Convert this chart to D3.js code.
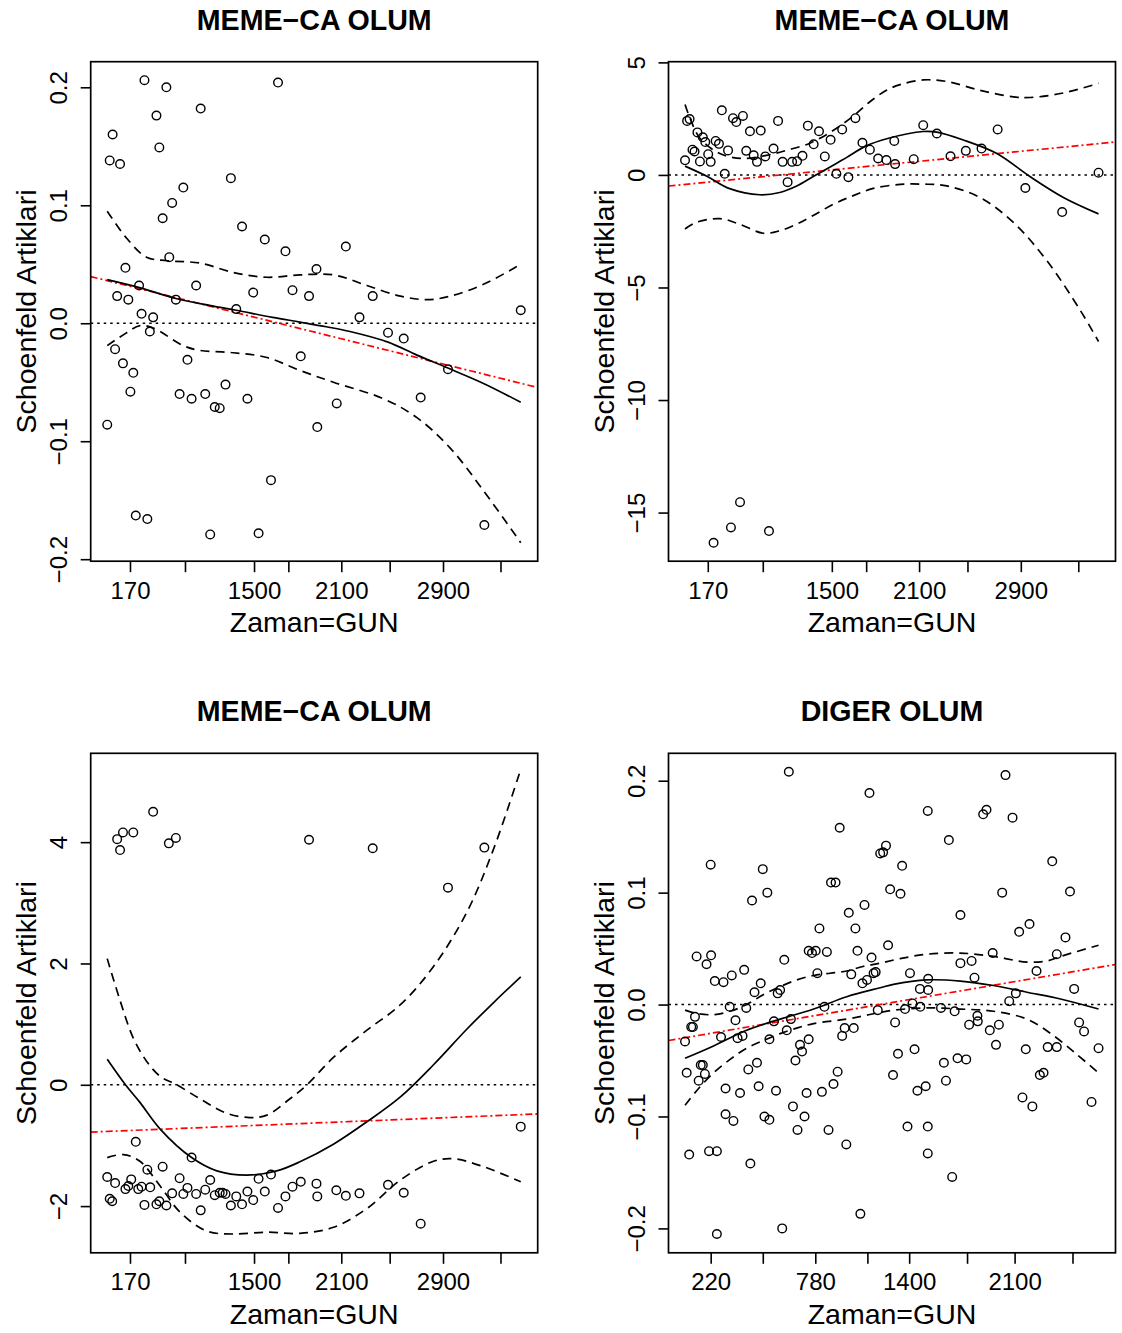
<!DOCTYPE html>
<html>
<head>
<meta charset="utf-8">
<script src="https://cdn.jsdelivr.net/npm/d3@7"></script>
<style>
  html, body { margin: 0; padding: 0; background: #fff; }
  text { font-family: "Liberation Sans", Arial, Helvetica, sans-serif; fill: #000; }
</style>
</head>
<body>
<svg id="chart" width="1122" height="1333"></svg>
<script>
// ---------- DATA (x = KM-transformed time, 0..1000) ----------
const titles = ["MEME\u2212CA OLUM", "MEME\u2212CA OLUM", "MEME\u2212CA OLUM", "DIGER OLUM"];
const yLabel = "Schoenfeld Artiklari";
const xLabel = "Zaman=GUN";

const xTicksA = [55, 188, 355, 438, 566, 683, 812, 951];
const xTickLabelsA = ["170", "", "1500", "", "2100", "", "2900", ""];
const xTicksB = [62, 188, 315, 441, 542, 682, 797, 937];
const xTickLabelsB = ["220", "", "780", "", "1400", "", "2100", ""];

const yTicks1 = [-0.2, -0.1, 0, 0.1, 0.2];
const yTickLabels1 = ["\u22120.2", "\u22120.1", "0.0", "0.1", "0.2"];
const yTicks2 = [-15, -10, -5, 0, 5];
const yTickLabels2 = ["\u221215", "\u221210", "\u22125", "0", "5"];
const yTicks3 = [-2, 0, 2, 4];
const yTickLabels3 = ["\u22122", "0", "2", "4"];
const yTicks4 = [-0.2, -0.1, 0, 0.1, 0.2];
const yTickLabels4 = ["\u22120.2", "\u22120.1", "0.0", "0.1", "0.2"];

const yRange1 = [-0.2017, 0.2217];
const yRange2 = [-17.16, 5.03];
const yRange3 = [-2.77, 5.465];
const yRange4 = [-0.2218, 0.2245];

// residual points [x, residual]
const points1 = [[0,-0.086],[6,0.138],[13,0.160],[19,-0.022],[24,0.023],[31,0.135],[38,-0.034],[44,0.047],[51,0.020],[56,-0.058],[63,-0.042],[69,-0.163],[77,0.032],[83,0.008],[90,0.206],[97,-0.166],[103,-0.007],[111,0.005],[119,0.176],[126,0.149],[134,0.089],[143,0.200],[150,0.056],[157,0.102],[166,0.020],[175,-0.060],[184,0.115],[194,-0.031],[204,-0.064],[215,0.032],[226,0.182],[237,-0.060],[249,-0.179],[260,-0.071],[272,-0.072],[286,-0.052],[299,0.123],[312,0.012],[326,0.082],[339,-0.064],[353,0.026],[366,-0.178],[381,0.071],[396,-0.133],[413,0.204],[431,0.061],[448,0.028],[468,-0.028],[488,0.023],[506,0.046],[508,-0.088],[555,-0.068],[577,0.065],[610,0.005],[642,0.023],[679,-0.008],[717,-0.013],[758,-0.063],[824,-0.039],[912,-0.171],[1000,0.011]];
const points2 = [[0,0.65],[5,2.40],[11,2.48],[18,1.12],[23,1.04],[30,1.89],[36,0.60],[43,1.67],[49,1.46],[56,0.92],[62,0.58],[69,-16.34],[74,1.51],[82,1.38],[89,2.87],[96,0.05],[104,1.09],[111,-15.66],[116,2.52],[124,2.35],[133,-14.54],[140,2.62],[148,1.07],[157,1.94],[166,0.87],[174,0.58],[183,1.97],[194,0.82],[203,-15.82],[214,1.17],[225,2.40],[236,0.58],[248,-0.32],[259,0.58],[271,0.61],[284,0.85],[297,2.19],[311,1.36],[324,1.94],[338,0.82],[352,1.56],[366,0.05],[380,2.02],[395,-0.10],[412,2.52],[429,1.43],[447,1.12],[467,0.73],[487,0.66],[506,1.51],[508,0.48],[553,0.70],[576,2.21],[609,1.84],[642,0.83],[679,1.07],[717,1.17],[756,2.02],[823,-0.58],[912,-1.65],[1000,0.10]];
const points3 = [[0,-1.52],[6,-1.88],[12,-1.92],[19,-1.62],[24,4.05],[31,3.87],[38,4.16],[44,-1.72],[51,-1.67],[58,-1.56],[63,4.16],[69,-0.94],[75,-1.72],[83,-1.68],[90,-1.98],[97,-1.40],[104,-1.69],[111,4.50],[119,-1.97],[126,-1.92],[134,-1.35],[143,-1.99],[149,3.98],[157,-1.79],[166,4.07],[175,-1.54],[184,-1.80],[194,-1.70],[204,-1.20],[215,-1.80],[226,-2.07],[237,-1.73],[249,-1.57],[260,-1.82],[272,-1.78],[279,-1.78],[286,-1.80],[299,-1.99],[312,-1.84],[326,-1.97],[339,-1.76],[353,-1.90],[366,-1.55],[381,-1.76],[396,-1.48],[413,-2.03],[431,-1.84],[448,-1.68],[468,-1.60],[488,4.04],[506,-1.63],[508,-1.84],[554,-1.74],[577,-1.83],[610,-1.79],[642,3.90],[679,-1.65],[717,-1.78],[758,-2.29],[824,3.25],[912,3.91],[1000,-0.69]];
const points4 = [[0,-0.033],[4,-0.061],[10,-0.134],[15,-0.020],[19,-0.020],[24,-0.011],[28,0.043],[33,-0.068],[38,-0.054],[43,-0.054],[48,-0.062],[52,0.036],[58,-0.131],[62,0.125],[63,0.044],[72,0.021],[77,-0.205],[77,-0.131],[87,-0.029],[93,0.020],[98,-0.075],[98,-0.098],[108,-0.002],[113,0.026],[117,-0.104],[122,-0.014],[127,-0.030],[133,-0.079],[139,-0.028],[143,0.031],[148,-0.003],[153,-0.058],[158,-0.142],[162,0.093],[168,0.011],[174,-0.052],[178,-0.073],[183,0.019],[188,0.121],[192,-0.100],[199,0.100],[204,-0.103],[204,-0.031],[215,-0.015],[220,-0.077],[224,0.010],[230,0.013],[235,-0.200],[240,0.040],[246,-0.023],[251,0.208],[256,-0.013],[261,-0.091],[267,-0.050],[272,-0.112],[278,-0.036],[283,-0.042],[289,-0.100],[294,-0.079],[299,0.048],[299,-0.031],[307,0.046],[316,0.048],[320,0.028],[325,0.068],[331,-0.078],[337,-0.002],[343,0.047],[347,-0.112],[353,0.109],[359,-0.071],[364,0.109],[369,-0.060],[374,0.158],[380,-0.028],[386,-0.021],[390,-0.125],[396,0.082],[402,0.027],[408,-0.021],[412,0.068],[417,0.048],[424,-0.187],[429,0.019],[434,0.089],[440,0.022],[446,0.189],[451,0.042],[456,0.028],[461,0.029],[466,-0.005],[472,0.135],[479,0.136],[486,0.142],[491,0.053],[496,0.103],[503,-0.063],[508,-0.016],[515,-0.044],[521,0.099],[525,0.124],[532,-0.004],[538,-0.109],[544,0.028],[550,0.001],[555,-0.040],[562,-0.077],[568,0.014],[569,-0.002],[582,-0.073],[587,0.173],[588,0.023],[588,0.013],[587,-0.109],[587,-0.133],[619,-0.003],[626,-0.052],[631,-0.068],[638,0.147],[646,-0.154],[652,-0.006],[659,-0.048],[666,0.037],[666,0.080],[680,-0.049],[687,-0.018],[693,0.039],[700,0.024],[707,-0.010],[708,-0.015],[721,0.170],[729,0.174],[737,-0.023],[744,0.046],[752,-0.036],[759,-0.018],[767,0.100],[775,0.205],[784,0.003],[792,0.167],[800,0.010],[808,0.065],[816,-0.083],[824,-0.040],[833,0.072],[840,-0.091],[850,0.030],[858,-0.063],[867,-0.061],[877,-0.038],[888,0.128],[899,0.045],[899,-0.038],[920,0.060],[931,0.101],[941,0.014],[953,-0.016],[965,-0.024],[983,-0.087],[1000,-0.039]];

// smoothed fit and confidence band [x, value]
const fit1 = [[0,0.037],[80,0.030],[166,0.021],[250,0.015],[312,0.011],[400,0.005],[466,0.001],[530,-0.003],[587,-0.007],[679,-0.016],[749,-0.027],[824,-0.038],[910,-0.051],[1000,-0.067]];
const upper1 = [[0,0.095],[47,0.072],[95,0.056],[144,0.053],[224,0.051],[305,0.043],[386,0.039],[466,0.041],[547,0.041],[628,0.032],[709,0.023],[773,0.020],[830,0.023],[910,0.033],[1000,0.050]];
const lower1 = [[0,-0.019],[47,-0.008],[79,-0.002],[111,-0.004],[184,-0.019],[224,-0.023],[305,-0.025],[386,-0.029],[466,-0.040],[547,-0.050],[668,-0.064],[749,-0.080],[830,-0.106],[910,-0.142],[1000,-0.186]];
const fit2 = [[0,0.39],[54,-0.07],[108,-0.61],[181,-0.88],[229,-0.78],[270,-0.49],[310,-0.07],[352,0.36],[391,0.78],[438,1.29],[490,1.62],[576,1.93],[609,1.90],[673,1.55],[754,0.95],[834,-0.07],[915,-1.00],[1000,-1.73]];
const upper2 = [[0,3.13],[11,2.57],[36,1.63],[84,0.95],[140,0.73],[197,0.87],[245,1.09],[302,1.41],[358,1.97],[407,2.62],[447,3.25],[487,3.76],[520,4.01],[576,4.22],[633,4.15],[713,3.76],[794,3.47],[834,3.44],[915,3.64],[1000,4.07]];
const lower2 = [[0,-2.40],[27,-2.11],[84,-1.94],[132,-2.19],[189,-2.59],[229,-2.48],[270,-2.19],[310,-1.80],[358,-1.31],[407,-0.92],[455,-0.60],[520,-0.42],[576,-0.41],[633,-0.49],[713,-1.00],[794,-2.11],[875,-3.81],[956,-6.02],[1000,-7.40]];
const fit3 = [[0,0.42],[44,0.0],[79,-0.29],[128,-0.73],[204,-1.20],[265,-1.42],[337,-1.49],[410,-1.42],[466,-1.27],[547,-0.98],[628,-0.61],[709,-0.20],[789,0.33],[870,0.92],[935,1.36],[1000,1.78]];
const upper3 = [[0,2.08],[31,1.39],[63,0.77],[95,0.39],[128,0.14],[168,0.0],[224,-0.23],[289,-0.47],[345,-0.54],[386,-0.50],[442,-0.23],[483,0.0],[547,0.45],[628,0.90],[709,1.32],[789,1.95],[870,2.85],[935,3.90],[1000,5.20]];
const lower3 = [[0,-1.20],[39,-1.15],[79,-1.26],[128,-1.67],[176,-2.10],[240,-2.41],[305,-2.46],[386,-2.43],[466,-2.45],[547,-2.35],[628,-2.04],[709,-1.57],[789,-1.26],[838,-1.22],[910,-1.35],[1000,-1.60]];
const fit4 = [[0,-0.048],[69,-0.037],[149,-0.023],[230,-0.013],[311,-0.004],[391,0.007],[472,0.015],[504,0.018],[585,0.022],[666,0.021],[746,0.017],[827,0.011],[908,0.005],[1000,-0.004]];
const upper4 = [[0,-0.005],[28,-0.008],[69,-0.009],[109,-0.006],[149,0.000],[190,0.009],[230,0.016],[270,0.022],[311,0.026],[351,0.028],[391,0.030],[430,0.034],[472,0.037],[520,0.041],[585,0.045],[666,0.046],[746,0.043],[827,0.038],[876,0.039],[908,0.043],[1000,0.053]];
const lower4 = [[0,-0.090],[28,-0.077],[69,-0.061],[109,-0.049],[149,-0.039],[190,-0.032],[230,-0.026],[270,-0.021],[311,-0.017],[391,-0.013],[432,-0.010],[472,-0.007],[504,-0.005],[585,-0.003],[666,-0.004],[746,-0.006],[827,-0.013],[892,-0.028],[949,-0.045],[1000,-0.061]];

// linear fit (red) value at x=0 and x=1000
const red1 = [0.0361, -0.0509];
const red2 = [-0.42, 1.39];
const red3 = [-0.769, -0.492];
const red4 = [-0.0296, 0.0332];

const xDomain = [-40, 1041];

// ---------- LAYOUT ----------
const panels = [
  { title: titles[0], left: 90.7, top: 61.7, pts: points1, fit: fit1, up: upper1, lo: lower1, red: red1, yd: yRange1, yt: yTicks1, ytl: yTickLabels1, xt: xTicksA, xtl: xTickLabelsA },
  { title: titles[1], left: 668.5, top: 61.7, pts: points2, fit: fit2, up: upper2, lo: lower2, red: red2, yd: yRange2, yt: yTicks2, ytl: yTickLabels2, xt: xTicksA, xtl: xTickLabelsA },
  { title: titles[2], left: 90.7, top: 753.3, pts: points3, fit: fit3, up: upper3, lo: lower3, red: red3, yd: yRange3, yt: yTicks3, ytl: yTickLabels3, xt: xTicksA, xtl: xTickLabelsA },
  { title: titles[3], left: 668.5, top: 753.3, pts: points4, fit: fit4, up: upper4, lo: lower4, red: red4, yd: yRange4, yt: yTicks4, ytl: yTickLabels4, xt: xTicksB, xtl: xTickLabelsB }
];
const PW = 447, PH = 499.5;

const svg = d3.select("#chart");
svg.append("rect").attr("width", 1122).attr("height", 1333).attr("fill", "#fff");

panels.forEach((p, i) => {
  const L = p.left, T = p.top, R = L + PW, B = T + PH;
  const x = d3.scaleLinear().domain(xDomain).range([L, R]);
  const y = d3.scaleLinear().domain(p.yd).range([B, T]);
  const g = svg.append("g");

  const clipId = "clip" + i;
  svg.append("clipPath").attr("id", clipId)
    .append("rect").attr("x", L).attr("y", T).attr("width", PW).attr("height", PH);
  const inner = g.append("g").attr("clip-path", `url(#${clipId})`);

  // zero reference line (dotted)
  inner.append("line")
    .attr("x1", L).attr("x2", R).attr("y1", y(0)).attr("y2", y(0))
    .attr("stroke", "#000").attr("stroke-width", 1.4).attr("stroke-dasharray", "2.5,4");

  // red linear fit line, extended across the region
  const redLine = d3.scaleLinear().domain([0, 1000]).range(p.red);
  inner.append("line")
    .attr("x1", x(xDomain[0])).attr("x2", x(xDomain[1]))
    .attr("y1", y(redLine(xDomain[0]))).attr("y2", y(redLine(xDomain[1])))
    .attr("stroke", "#ff0000").attr("stroke-width", 1.7).attr("stroke-dasharray", "7,3,2,3");

  const line = d3.line().x(d => x(d[0])).y(d => y(d[1])).curve(d3.curveCatmullRom.alpha(0.5));

  inner.append("path").attr("d", line(p.fit))
    .attr("fill", "none").attr("stroke", "#000").attr("stroke-width", 1.7);
  [p.up, p.lo].forEach(arr => {
    inner.append("path").attr("d", line(arr))
      .attr("fill", "none").attr("stroke", "#000").attr("stroke-width", 1.7)
      .attr("stroke-dasharray", "9,6");
  });

  // points
  g.append("g").selectAll("circle").data(p.pts).join("circle")
    .attr("cx", d => x(d[0])).attr("cy", d => y(d[1])).attr("r", 4.3)
    .attr("fill", "none").attr("stroke", "#000").attr("stroke-width", 1.4);

  // frame
  g.append("rect").attr("x", L).attr("y", T).attr("width", PW).attr("height", PH)
    .attr("fill", "none").attr("stroke", "#000").attr("stroke-width", 1.7);

  // x axis
  const xa = g.append("g").attr("transform", `translate(0,${B})`)
    .call(d3.axisBottom(x).tickValues(p.xt).tickSize(11).tickSizeOuter(0)
      .tickFormat((d, k) => p.xtl[k]));
  xa.select(".domain").remove();
  xa.selectAll(".tick line").attr("stroke", "#000").attr("stroke-width", 1.6);
  xa.selectAll(".tick text").attr("y", 37.5).attr("dy", 0)
    .style("font-size", "24px").attr("font-family", null);

  // y axis
  const ya = g.append("g").attr("transform", `translate(${L},0)`)
    .call(d3.axisLeft(y).tickValues(p.yt).tickSize(10).tickSizeOuter(0)
      .tickFormat((d, k) => p.ytl[k]));
  ya.select(".domain").remove();
  ya.selectAll(".tick line").attr("stroke", "#000").attr("stroke-width", 1.6);
  ya.selectAll(".tick text")
    .attr("transform", "rotate(-90)")
    .attr("x", 0).attr("y", -23.5).attr("dy", 0)
    .attr("text-anchor", "middle")
    .style("font-size", "24px").attr("font-family", null);

  // titles
  g.append("text").attr("x", (L + R) / 2).attr("y", T - 32)
    .attr("text-anchor", "middle").style("font-size", "28.6px").style("font-weight", "bold")
    .text(p.title);
  g.append("text").attr("x", (L + R) / 2).attr("y", B + 71)
    .attr("text-anchor", "middle").style("font-size", "28.5px")
    .text(xLabel);
  g.append("text")
    .attr("transform", `translate(${L - 55},${(T + B) / 2}) rotate(-90)`)
    .attr("text-anchor", "middle").style("font-size", "28.5px")
    .text(yLabel);
});
</script>
</body>
</html>
